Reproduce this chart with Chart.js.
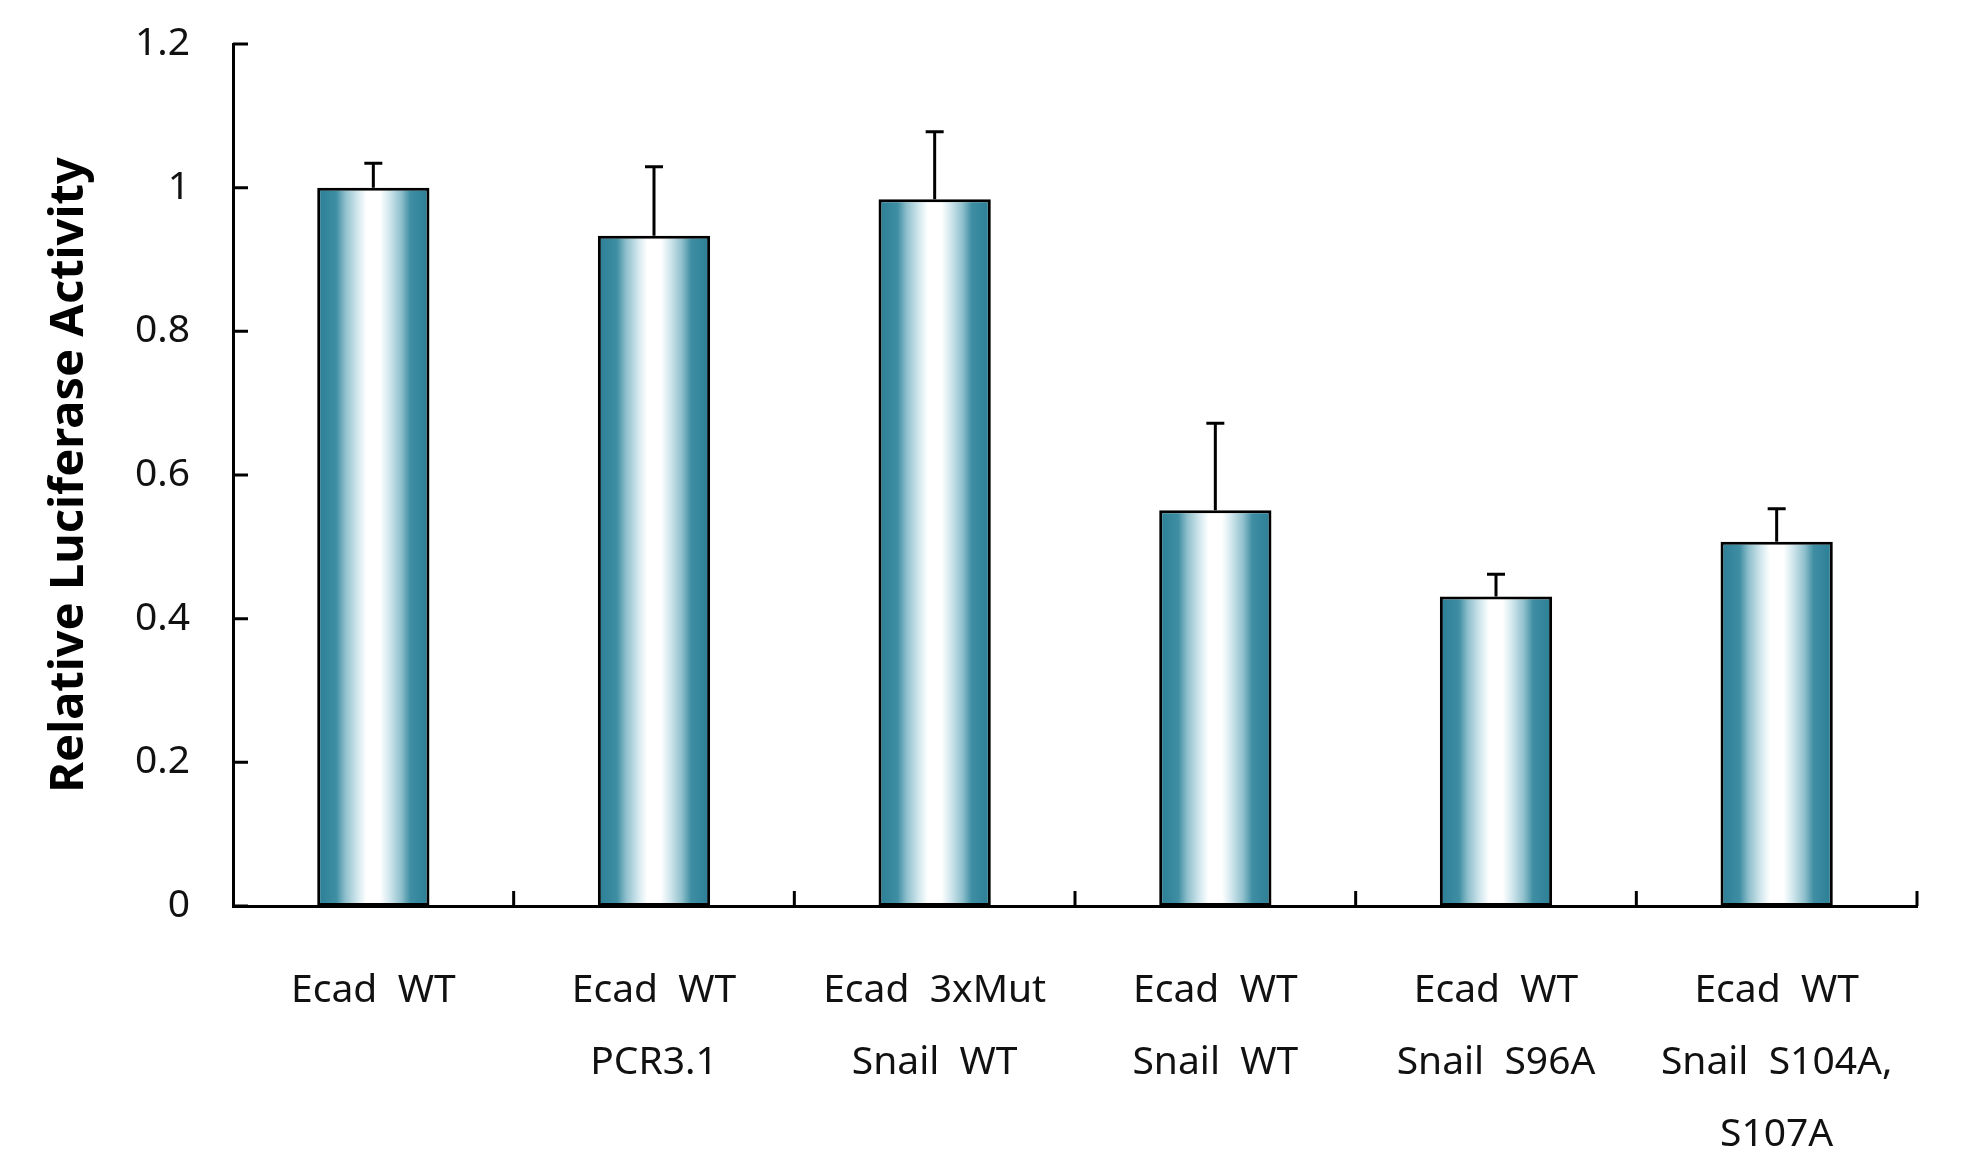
<!DOCTYPE html>
<html>
<head>
<meta charset="utf-8">
<title>Relative Luciferase Activity</title>
<script src="https://cdn.jsdelivr.net/npm/chart.js@4.4.1/dist/chart.umd.min.js"></script>
<style>
  html, body { margin: 0; padding: 0; background: #ffffff; }
  #chart { display: block; }
</style>
</head>
<body>
<canvas id="chart" width="1962" height="1176"></canvas>
<script>
// ---- data ----
const categories = [
    ['Ecad  WT'],
    ['Ecad  WT', 'PCR3.1'],
    ['Ecad  3xMut', 'Snail  WT'],
    ['Ecad  WT', 'Snail  WT'],
    ['Ecad  WT', 'Snail  S96A'],
    ['Ecad  WT', 'Snail  S104A,', 'S107A']
];
const activity = [1.0, 0.933, 0.984, 0.551, 0.431, 0.507];
const errorUp = [0.034, 0.096, 0.094, 0.121, 0.031, 0.046];
const yTicks = [0, 0.2, 0.4, 0.6, 0.8, 1, 1.2];

const FONT = "'Noto Sans', 'Open Sans', sans-serif";

// teal -> white -> teal shading across each bar
function barFill(context) {
    const chart = context.chart;
    const xs = chart.scales.x;
    if (!xs || !chart.chartArea || context.dataIndex === undefined) return '#2b7b92';
    const cx = xs.getPixelForValue(context.dataIndex);
    const half = (xs.width / categories.length) * 0.4 / 2;
    const g = chart.ctx.createLinearGradient(cx - half, 0, cx + half, 0);
    g.addColorStop(0.00, '#2a7e95');
    g.addColorStop(0.17, '#3f8ea3');
    g.addColorStop(0.25, '#8ebfcc');
    g.addColorStop(0.36, '#d3e8ee');
    g.addColorStop(0.44, '#ffffff');
    g.addColorStop(0.56, '#ffffff');
    g.addColorStop(0.64, '#d3e8ee');
    g.addColorStop(0.75, '#8ebfcc');
    g.addColorStop(0.83, '#3f8ea3');
    g.addColorStop(1.00, '#2a7e95');
    return g;
}

// inward tick marks on both axes
const innerTicks = {
    id: 'innerTicks',
    afterDraw(chart) {
        const { ctx, chartArea } = chart;
        const xs = chart.scales.x, ys = chart.scales.y;
        ctx.save();
        ctx.strokeStyle = '#000';
        ctx.lineWidth = 3;
        ctx.beginPath();
        ys.ticks.forEach((t, i) => {
            const py = ys.getPixelForTick(i);
            ctx.moveTo(chartArea.left, py);
            ctx.lineTo(chartArea.left + 15, py);
        });
        const step = xs.width / categories.length;
        for (let i = 1; i <= categories.length; i++) {
            const px = chartArea.left + i * step;
            ctx.moveTo(px, chartArea.bottom);
            ctx.lineTo(px, chartArea.bottom - 15);
        }
        ctx.stroke();
        ctx.restore();
    }
};

// upper error bars
const errorBars = {
    id: 'errorBars',
    afterDatasetsDraw(chart) {
        const { ctx } = chart;
        const ys = chart.scales.y;
        const meta = chart.getDatasetMeta(0);
        ctx.save();
        ctx.strokeStyle = '#000';
        ctx.lineWidth = 3;
        meta.data.forEach((bar, i) => {
            const top = ys.getPixelForValue(activity[i] + errorUp[i]);
            ctx.beginPath();
            ctx.moveTo(bar.x, bar.y);
            ctx.lineTo(bar.x, top);
            ctx.moveTo(bar.x - 9, top);
            ctx.lineTo(bar.x + 9, top);
            ctx.stroke();
        });
        ctx.restore();
    }
};

new Chart(document.getElementById('chart'), {
    type: 'bar',
    data: {
        labels: categories,
        datasets: [{
            label: 'Relative Luciferase Activity',
            data: activity,
            backgroundColor: barFill,
            borderColor: '#000',
            borderWidth: 3,
            borderSkipped: false,
            barPercentage: 0.4,
            categoryPercentage: 1.0
        }]
    },
    options: {
        responsive: false,
        devicePixelRatio: 1,
        animation: false,
        layout: { padding: { top: 44, right: 45, left: 0, bottom: 0 } },
        plugins: {
            legend: { display: false },
            tooltip: { enabled: false }
        },
        scales: {
            x: {
                afterFit: (scale) => { scale.height = 270; },
                grid: { display: false, drawTicks: false },
                border: { display: true, color: '#000', width: 3 },
                ticks: {
                    color: '#111',
                    padding: 49,
                    maxRotation: 0,
                    autoSkip: false,
                    font: { family: FONT, size: 39, lineHeight: 1.85 }
                }
            },
            y: {
                min: 0,
                max: 1.2,
                afterFit: (scale) => {
                    scale.width = 233;
                    scale.paddingTop = 0;
                    scale.paddingBottom = 0;
                },
                afterBuildTicks: (scale) => {
                    scale.ticks = yTicks.map(v => ({ value: v }));
                },
                grid: { display: false, drawTicks: false },
                border: { display: true, color: '#000', width: 3 },
                ticks: {
                    color: '#111',
                    padding: 43,
                    callback: (v) => String(Math.round(v * 10) / 10),
                    font: { family: FONT, size: 39 }
                },
                title: {
                    display: true,
                    text: 'Relative Luciferase Activity',
                    color: '#000',
                    padding: { top: 41, bottom: 0 },
                    font: { family: FONT, size: 47, weight: 'bold', lineHeight: 1.2 }
                }
            }
        }
    },
    plugins: [innerTicks, errorBars]
});
</script>
</body>
</html>
